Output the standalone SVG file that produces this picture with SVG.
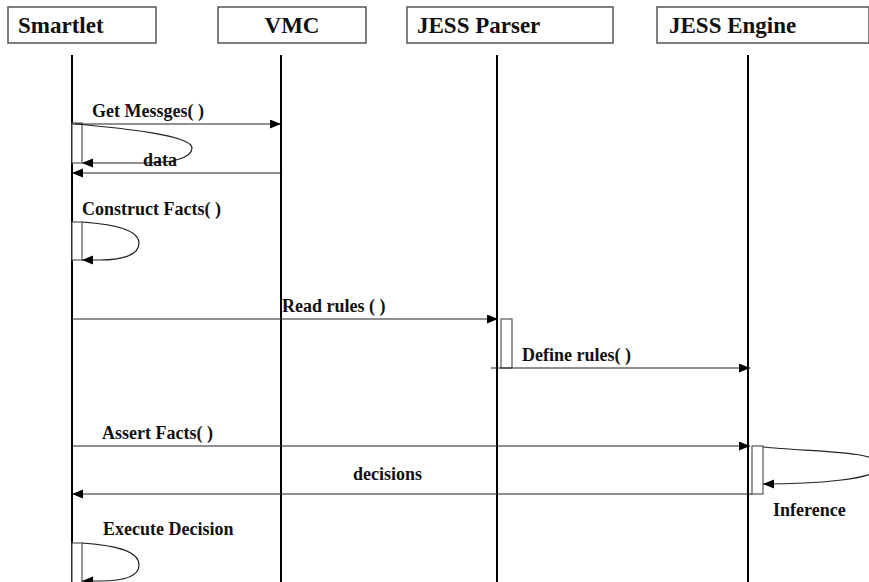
<svg xmlns="http://www.w3.org/2000/svg" width="869" height="582" viewBox="0 0 869 582">
<style>
.hdr{fill:#fff;stroke:#555;stroke-width:1.5}
.ht{font-family:"Liberation Serif","Times New Roman",serif;font-weight:bold;font-size:23px;fill:#111}
.lt{font-family:"Liberation Serif","Times New Roman",serif;font-weight:bold;font-size:18px;fill:#111}
.life{stroke:#000;stroke-width:2}
.msg{stroke:#222;stroke-width:1.2;fill:none}
.act{fill:#fff;stroke:#555;stroke-width:1.2}
</style>
<defs>
<marker id="ah" markerUnits="userSpaceOnUse" markerWidth="12" markerHeight="10" refX="11" refY="4.5" orient="auto">
<path d="M0,0 L11,4.5 L0,9 z" fill="#000"/>
</marker>
</defs>
<rect width="869" height="582" fill="#fff"/>
<g id="smartlet">
<rect class="hdr" x="8" y="7" width="148" height="36"/>
<text class="ht" x="18" y="33">Smartlet</text>
<line class="life" x1="72" y1="55" x2="72" y2="582"/>
</g>
<g id="vmc">
<rect class="hdr" x="218" y="7" width="148" height="36"/>
<text class="ht" x="292" y="33" text-anchor="middle">VMC</text>
<line class="life" x1="281" y1="55" x2="281" y2="582"/>
</g>
<g id="jess-parser">
<rect class="hdr" x="407" y="7" width="206" height="36"/>
<text class="ht" x="417" y="33">JESS Parser</text>
<line class="life" x1="497" y1="55" x2="497" y2="582"/>
</g>
<g id="jess-engine">
<rect class="hdr" x="657" y="7" width="212" height="36"/>
<text class="ht" x="669" y="33">JESS Engine</text>
<line class="life" x1="748" y1="55" x2="748" y2="582"/>
</g>
<g id="activations">
<rect class="act" x="72" y="123" width="10" height="40"/>
<rect class="act" x="72" y="222" width="10" height="38"/>
<rect class="act" x="501" y="319" width="11" height="49"/>
<rect class="act" x="752" y="446" width="11" height="48"/>
<rect class="act" x="72" y="543" width="10" height="45"/>
</g>
<g id="connectors">
<line class="msg" x1="72" y1="124" x2="281" y2="124" marker-end="url(#ah)"/>
<path class="msg" d="M75,124 C120,128 192,135 192,148 C192,158 172,163 145,163 L82,163" marker-end="url(#ah)"/>
<line class="msg" x1="281" y1="173" x2="72" y2="173" marker-end="url(#ah)"/>
<path class="msg" d="M82,222 C112,224 139,229 139,243 C139,256 120,260 100,260 L82,260" marker-end="url(#ah)"/>
<line class="msg" x1="72" y1="319" x2="498" y2="319" marker-end="url(#ah)"/>
<line class="msg" x1="491" y1="368" x2="750" y2="368" marker-end="url(#ah)"/>
<line class="msg" x1="72" y1="446" x2="750" y2="446" marker-end="url(#ah)"/>
<path class="msg" d="M763,447 C810,452 880,450 880,466 C880,480 810,484 763,484" marker-end="url(#ah)"/>
<line class="msg" x1="752" y1="494" x2="72" y2="494" marker-end="url(#ah)"/>
<path class="msg" d="M82,543 C112,545 139,550 139,565 C139,578 120,581 100,581 L82,581" marker-end="url(#ah)"/>
</g>
<g id="labels">
<text class="lt" x="92" y="117">Get Messges( )</text>
<text class="lt" x="143" y="166">data</text>
<text class="lt" x="82" y="215">Construct Facts( )</text>
<text class="lt" x="282" y="312">Read rules ( )</text>
<text class="lt" x="522" y="361">Define rules( )</text>
<text class="lt" x="102" y="439">Assert Facts( )</text>
<text class="lt" x="353" y="480">decisions</text>
<text class="lt" x="773" y="516">Inference</text>
<text class="lt" x="103" y="535">Execute Decision</text>
</g>
</svg>
